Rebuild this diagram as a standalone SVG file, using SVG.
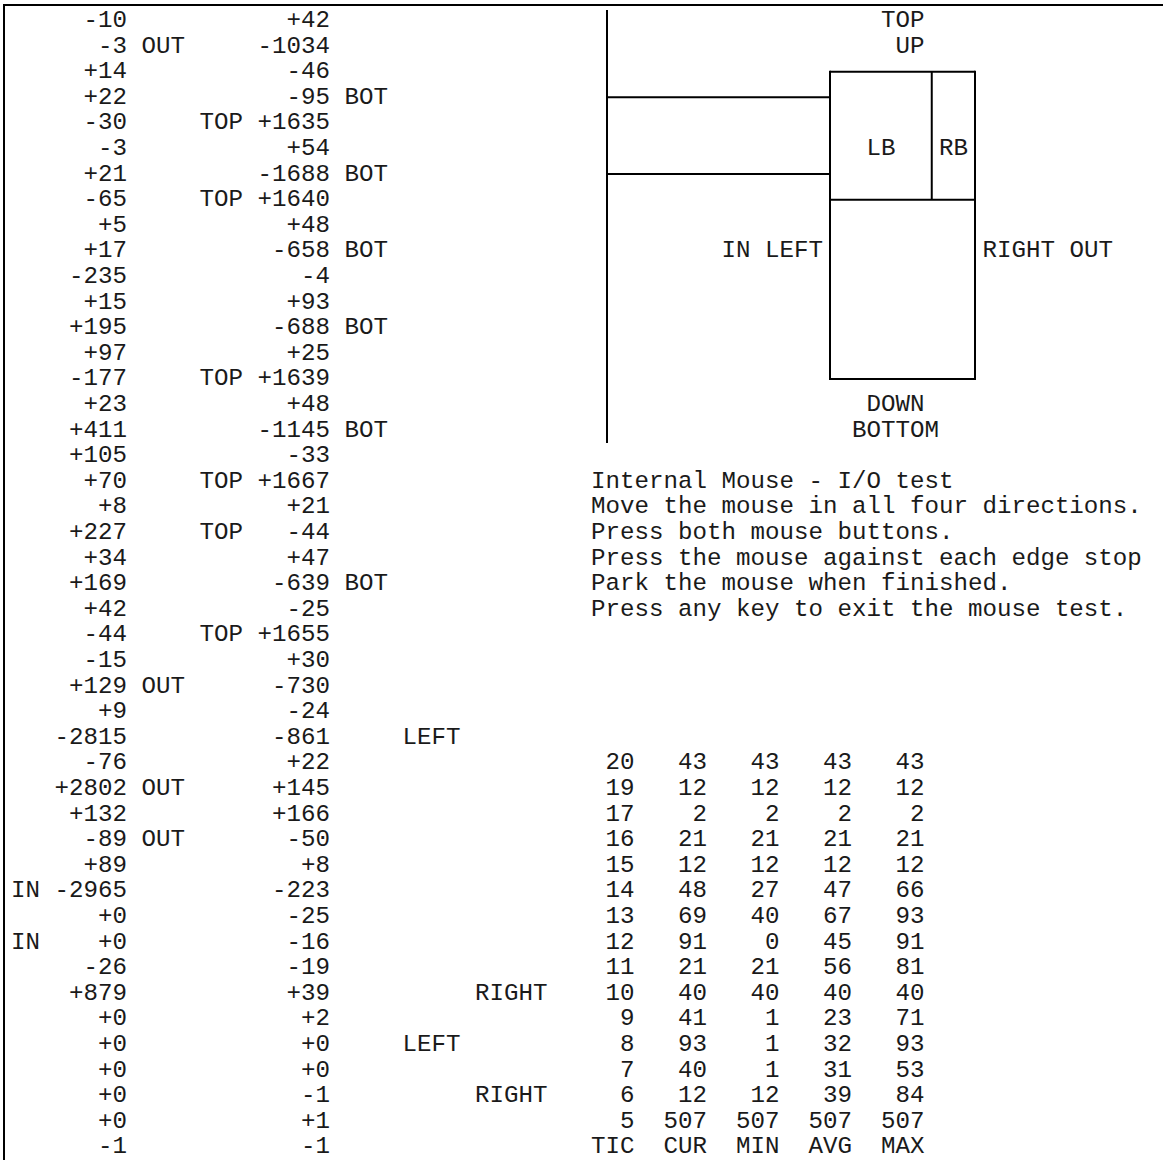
<svg xmlns="http://www.w3.org/2000/svg" width="1163" height="1160" viewBox="0 0 1163 1160">
<style>
text{font-family:"Liberation Mono","DejaVu Sans Mono",monospace;font-size:24.17px;fill:#1a1a1a}
.ln{stroke:#000;stroke-width:2;fill:none;stroke-linecap:butt}
</style>
<rect width="1163" height="1160" fill="#fff"/>
<g id="border" class="ln">
<line x1="3" y1="5" x2="1163" y2="5"/>
<line x1="4" y1="4" x2="4" y2="1160"/>
</g>
<g id="connectors" class="ln">
<line x1="607" y1="10" x2="607" y2="443"/>
<line x1="607" y1="97.3" x2="830" y2="97.3"/>
<line x1="607" y1="174.1" x2="830" y2="174.1"/>
</g>
<g id="mouse-box" class="ln">
<line x1="830" y1="71.7" x2="975" y2="71.7"/>
<line x1="830" y1="199.7" x2="975" y2="199.7"/>
<line x1="830" y1="378.9" x2="975" y2="378.9"/>
<line x1="830" y1="70.7" x2="830" y2="379.9"/>
<line x1="975" y1="70.7" x2="975" y2="379.9"/>
<line x1="931.75" y1="71.7" x2="931.75" y2="199.7"/>
</g>
<g id="mouse-labels">
<text x="881" y="27">TOP</text>
<text x="895.5" y="52.6">UP</text>
<text x="866.5" y="155">LB</text>
<text x="939" y="155">RB</text>
<text x="721.5" y="257.4">IN LEFT</text>
<text x="982.5" y="257.4">RIGHT OUT</text>
<text x="866.5" y="411">DOWN</text>
<text x="852" y="436.6">BOTTOM</text>
</g>
<g id="instructions">
<text x="591" y="487.8">Internal Mouse - I/O test</text>
<text x="591" y="513.4">Move the mouse in all four directions.</text>
<text x="591" y="539">Press both mouse buttons.</text>
<text x="591" y="564.6">Press the mouse against each edge stop</text>
<text x="591" y="590.2">Park the mouse when finished.</text>
<text x="591" y="615.8">Press any key to exit the mouse test.</text>
</g>
<g id="data-left">
<text y="27"><tspan x="83.5">-10</tspan><tspan x="286.5">+42</tspan></text>
<text y="52.6"><tspan x="98">-3</tspan><tspan x="141.5">OUT</tspan><tspan x="257.5">-1034</tspan></text>
<text y="78.2"><tspan x="83.5">+14</tspan><tspan x="286.5">-46</tspan></text>
<text y="103.8"><tspan x="83.5">+22</tspan><tspan x="286.5">-95</tspan><tspan x="344.5">BOT</tspan></text>
<text y="129.4"><tspan x="83.5">-30</tspan><tspan x="199.5">TOP</tspan><tspan x="257.5">+1635</tspan></text>
<text y="155"><tspan x="98">-3</tspan><tspan x="286.5">+54</tspan></text>
<text y="180.6"><tspan x="83.5">+21</tspan><tspan x="257.5">-1688</tspan><tspan x="344.5">BOT</tspan></text>
<text y="206.2"><tspan x="83.5">-65</tspan><tspan x="199.5">TOP</tspan><tspan x="257.5">+1640</tspan></text>
<text y="231.8"><tspan x="98">+5</tspan><tspan x="286.5">+48</tspan></text>
<text y="257.4"><tspan x="83.5">+17</tspan><tspan x="272">-658</tspan><tspan x="344.5">BOT</tspan></text>
<text y="283"><tspan x="69">-235</tspan><tspan x="301">-4</tspan></text>
<text y="308.6"><tspan x="83.5">+15</tspan><tspan x="286.5">+93</tspan></text>
<text y="334.2"><tspan x="69">+195</tspan><tspan x="272">-688</tspan><tspan x="344.5">BOT</tspan></text>
<text y="359.8"><tspan x="83.5">+97</tspan><tspan x="286.5">+25</tspan></text>
<text y="385.4"><tspan x="69">-177</tspan><tspan x="199.5">TOP</tspan><tspan x="257.5">+1639</tspan></text>
<text y="411"><tspan x="83.5">+23</tspan><tspan x="286.5">+48</tspan></text>
<text y="436.6"><tspan x="69">+411</tspan><tspan x="257.5">-1145</tspan><tspan x="344.5">BOT</tspan></text>
<text y="462.2"><tspan x="69">+105</tspan><tspan x="286.5">-33</tspan></text>
<text y="487.8"><tspan x="83.5">+70</tspan><tspan x="199.5">TOP</tspan><tspan x="257.5">+1667</tspan></text>
<text y="513.4"><tspan x="98">+8</tspan><tspan x="286.5">+21</tspan></text>
<text y="539"><tspan x="69">+227</tspan><tspan x="199.5">TOP</tspan><tspan x="286.5">-44</tspan></text>
<text y="564.6"><tspan x="83.5">+34</tspan><tspan x="286.5">+47</tspan></text>
<text y="590.2"><tspan x="69">+169</tspan><tspan x="272">-639</tspan><tspan x="344.5">BOT</tspan></text>
<text y="615.8"><tspan x="83.5">+42</tspan><tspan x="286.5">-25</tspan></text>
<text y="641.4"><tspan x="83.5">-44</tspan><tspan x="199.5">TOP</tspan><tspan x="257.5">+1655</tspan></text>
<text y="667"><tspan x="83.5">-15</tspan><tspan x="286.5">+30</tspan></text>
<text y="692.6"><tspan x="69">+129</tspan><tspan x="141.5">OUT</tspan><tspan x="272">-730</tspan></text>
<text y="718.2"><tspan x="98">+9</tspan><tspan x="286.5">-24</tspan></text>
<text y="743.8"><tspan x="54.5">-2815</tspan><tspan x="272">-861</tspan><tspan x="402.5">LEFT</tspan></text>
<text y="769.4"><tspan x="83.5">-76</tspan><tspan x="286.5">+22</tspan></text>
<text y="795"><tspan x="54.5">+2802</tspan><tspan x="141.5">OUT</tspan><tspan x="272">+145</tspan></text>
<text y="820.6"><tspan x="69">+132</tspan><tspan x="272">+166</tspan></text>
<text y="846.2"><tspan x="83.5">-89</tspan><tspan x="141.5">OUT</tspan><tspan x="286.5">-50</tspan></text>
<text y="871.8"><tspan x="83.5">+89</tspan><tspan x="301">+8</tspan></text>
<text y="897.4"><tspan x="11">IN</tspan><tspan x="54.5">-2965</tspan><tspan x="272">-223</tspan></text>
<text y="923"><tspan x="98">+0</tspan><tspan x="286.5">-25</tspan></text>
<text y="948.6"><tspan x="11">IN</tspan><tspan x="98">+0</tspan><tspan x="286.5">-16</tspan></text>
<text y="974.2"><tspan x="83.5">-26</tspan><tspan x="286.5">-19</tspan></text>
<text y="999.8"><tspan x="69">+879</tspan><tspan x="286.5">+39</tspan><tspan x="475">RIGHT</tspan></text>
<text y="1025.4"><tspan x="98">+0</tspan><tspan x="301">+2</tspan></text>
<text y="1051"><tspan x="98">+0</tspan><tspan x="301">+0</tspan><tspan x="402.5">LEFT</tspan></text>
<text y="1076.6"><tspan x="98">+0</tspan><tspan x="301">+0</tspan></text>
<text y="1102.2"><tspan x="98">+0</tspan><tspan x="301">-1</tspan><tspan x="475">RIGHT</tspan></text>
<text y="1127.8"><tspan x="98">+0</tspan><tspan x="301">+1</tspan></text>
<text y="1153.4"><tspan x="98">-1</tspan><tspan x="301">-1</tspan></text>
</g>
<g id="table">
<text y="769.4"><tspan x="605.5">20</tspan><tspan x="678">43</tspan><tspan x="750.5">43</tspan><tspan x="823">43</tspan><tspan x="895.5">43</tspan></text>
<text y="795"><tspan x="605.5">19</tspan><tspan x="678">12</tspan><tspan x="750.5">12</tspan><tspan x="823">12</tspan><tspan x="895.5">12</tspan></text>
<text y="820.6"><tspan x="605.5">17</tspan><tspan x="692.5">2</tspan><tspan x="765">2</tspan><tspan x="837.5">2</tspan><tspan x="910">2</tspan></text>
<text y="846.2"><tspan x="605.5">16</tspan><tspan x="678">21</tspan><tspan x="750.5">21</tspan><tspan x="823">21</tspan><tspan x="895.5">21</tspan></text>
<text y="871.8"><tspan x="605.5">15</tspan><tspan x="678">12</tspan><tspan x="750.5">12</tspan><tspan x="823">12</tspan><tspan x="895.5">12</tspan></text>
<text y="897.4"><tspan x="605.5">14</tspan><tspan x="678">48</tspan><tspan x="750.5">27</tspan><tspan x="823">47</tspan><tspan x="895.5">66</tspan></text>
<text y="923"><tspan x="605.5">13</tspan><tspan x="678">69</tspan><tspan x="750.5">40</tspan><tspan x="823">67</tspan><tspan x="895.5">93</tspan></text>
<text y="948.6"><tspan x="605.5">12</tspan><tspan x="678">91</tspan><tspan x="765">0</tspan><tspan x="823">45</tspan><tspan x="895.5">91</tspan></text>
<text y="974.2"><tspan x="605.5">11</tspan><tspan x="678">21</tspan><tspan x="750.5">21</tspan><tspan x="823">56</tspan><tspan x="895.5">81</tspan></text>
<text y="999.8"><tspan x="605.5">10</tspan><tspan x="678">40</tspan><tspan x="750.5">40</tspan><tspan x="823">40</tspan><tspan x="895.5">40</tspan></text>
<text y="1025.4"><tspan x="620">9</tspan><tspan x="678">41</tspan><tspan x="765">1</tspan><tspan x="823">23</tspan><tspan x="895.5">71</tspan></text>
<text y="1051"><tspan x="620">8</tspan><tspan x="678">93</tspan><tspan x="765">1</tspan><tspan x="823">32</tspan><tspan x="895.5">93</tspan></text>
<text y="1076.6"><tspan x="620">7</tspan><tspan x="678">40</tspan><tspan x="765">1</tspan><tspan x="823">31</tspan><tspan x="895.5">53</tspan></text>
<text y="1102.2"><tspan x="620">6</tspan><tspan x="678">12</tspan><tspan x="750.5">12</tspan><tspan x="823">39</tspan><tspan x="895.5">84</tspan></text>
<text y="1127.8"><tspan x="620">5</tspan><tspan x="663.5">507</tspan><tspan x="736">507</tspan><tspan x="808.5">507</tspan><tspan x="881">507</tspan></text>
<text y="1153.4"><tspan x="591">TIC</tspan><tspan x="663.5">CUR</tspan><tspan x="736">MIN</tspan><tspan x="808.5">AVG</tspan><tspan x="881">MAX</tspan></text>
</g>
</svg>
